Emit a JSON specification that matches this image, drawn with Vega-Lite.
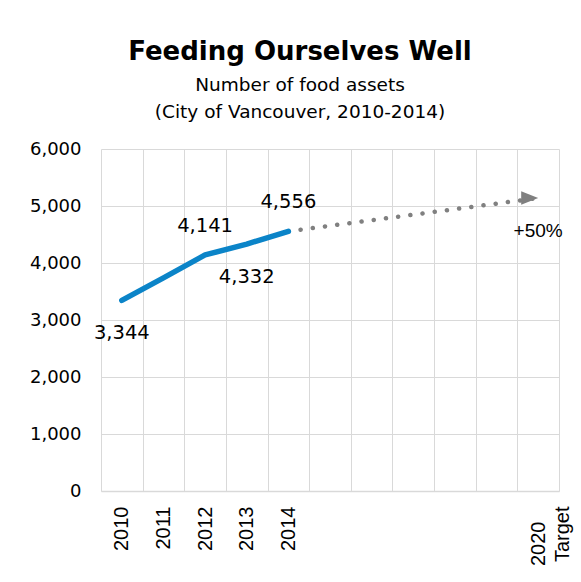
{
  "$schema": "https://vega.github.io/schema/vega-lite/v6.json",
  "autosize": "none",
  "width": 458,
  "height": 342,
  "padding": {"left": 101, "top": 149, "right": 22, "bottom": 91},
  "background": "white",
  "config": {"view": {"stroke": null}},
  "title": {
    "text": "Feeding Ourselves Well",
    "subtitle": ["Number of food assets", "(City of Vancouver, 2010-2014)"],
    "anchor": "middle",
    "frame": "group",
    "dx": -30,
    "offset": 19,
    "font": "DejaVu Sans",
    "fontSize": 26,
    "fontWeight": "bold",
    "color": "#000000",
    "subtitleFont": "DejaVu Sans",
    "subtitleFontSize": 18.5,
    "subtitleColor": "#000000",
    "subtitleLineHeight": 27,
    "subtitlePadding": 11
  },
  "data": {
    "values": [
      {"year": 2010, "assets": 3344, "series": "Actual"},
      {"year": 2011, "assets": 3740, "series": "Actual"},
      {"year": 2012, "assets": 4141, "series": "Actual"},
      {"year": 2013, "assets": 4332, "series": "Actual"},
      {"year": 2014, "assets": 4556, "series": "Actual"},
      {"year": 2014, "assets": 4556, "series": "Target"},
      {"year": 2020, "assets": 5140, "series": "Target", "label": "+50%"}
    ]
  },
  "encoding": {
    "x": {
      "field": "year",
      "type": "quantitative",
      "scale": {"domain": [2009.5, 2020.5], "nice": false, "zero": false},
      "axis": {
        "title": null,
        "values": [2009.5, 2010, 2010.5, 2011, 2011.5, 2012, 2012.5, 2013, 2013.5, 2014, 2014.5, 2015, 2015.5, 2016, 2016.5, 2017, 2017.5, 2018, 2018.5, 2019, 2019.5, 2020, 2020.5],
        "ticks": false,
        "grid": true,
        "gridColor": "#d9d9d9",
        "gridWidth": 1,
        "gridOpacity": {"condition": {"test": "datum.value % 1 == 0", "value": 0}, "value": 1},
        "domainColor": "#d9d9d9",
        "domainWidth": 1.5,
        "labelExpr": "datum.value == 2020 ? ['2020\u2800', 'Target'] : ((datum.value % 1 == 0 && datum.value <= 2014) ? '' + datum.value : '')",
        "labelAngle": -90,
        "labelFont": "Liberation Sans",
        "labelFontSize": 20,
        "labelLineHeight": 24,
        "labelColor": "#000000",
        "labelPadding": 15,
        "labelOverlap": false,
        "labelBound": false,
        "labelFlush": false
      }
    },
    "y": {
      "field": "assets",
      "type": "quantitative",
      "scale": {"domain": [0, 6000], "nice": false},
      "axis": {
        "title": null,
        "values": [0, 1000, 2000, 3000, 4000, 5000, 6000],
        "format": ",d",
        "domain": false,
        "ticks": false,
        "gridColor": "#d9d9d9",
        "gridWidth": 1,
        "labelFont": "DejaVu Sans",
        "labelFontSize": 18,
        "labelColor": "#000000",
        "labelPadding": 20
      }
    }
  },
  "layer": [
    {
      "transform": [{"filter": "datum.series == 'Target'"}],
      "mark": {"type": "line", "color": "#808080", "strokeWidth": 4.5, "strokeCap": "round", "strokeDash": [0.1, 12.2]}
    },
    {
      "transform": [{"filter": "datum.series == 'Target' && datum.year == 2020"}],
      "mark": {"type": "point", "shape": "M -2 -0.8 L 0 0 L -2 0.8 Z", "size": 289, "filled": true, "color": "#808080", "opacity": 1, "strokeWidth": 0}
    },
    {
      "transform": [{"filter": "datum.series == 'Actual'"}],
      "mark": {"type": "line", "color": "#0b84c8", "strokeWidth": 5.5, "strokeCap": "round", "strokeJoin": "round"}
    },
    {
      "transform": [{"filter": "datum.series == 'Actual' && (datum.year == 2012 || datum.year == 2014)"}],
      "mark": {"type": "text", "dy": -29, "font": "DejaVu Sans", "fontSize": 19.5, "color": "#000000", "baseline": "middle"},
      "encoding": {"text": {"field": "assets", "type": "quantitative", "format": ",d"}}
    },
    {
      "transform": [{"filter": "datum.series == 'Actual' && (datum.year == 2010 || datum.year == 2013)"}],
      "mark": {"type": "text", "dy": 33, "font": "DejaVu Sans", "fontSize": 19.5, "color": "#000000", "baseline": "middle"},
      "encoding": {"text": {"field": "assets", "type": "quantitative", "format": ",d"}}
    },
    {
      "transform": [{"filter": "datum.series == 'Target' && datum.year == 2020"}],
      "mark": {"type": "text", "dy": 33, "font": "Liberation Sans", "fontSize": 19, "color": "#000000", "baseline": "middle"},
      "encoding": {"text": {"field": "label", "type": "nominal"}}
    }
  ]
}
